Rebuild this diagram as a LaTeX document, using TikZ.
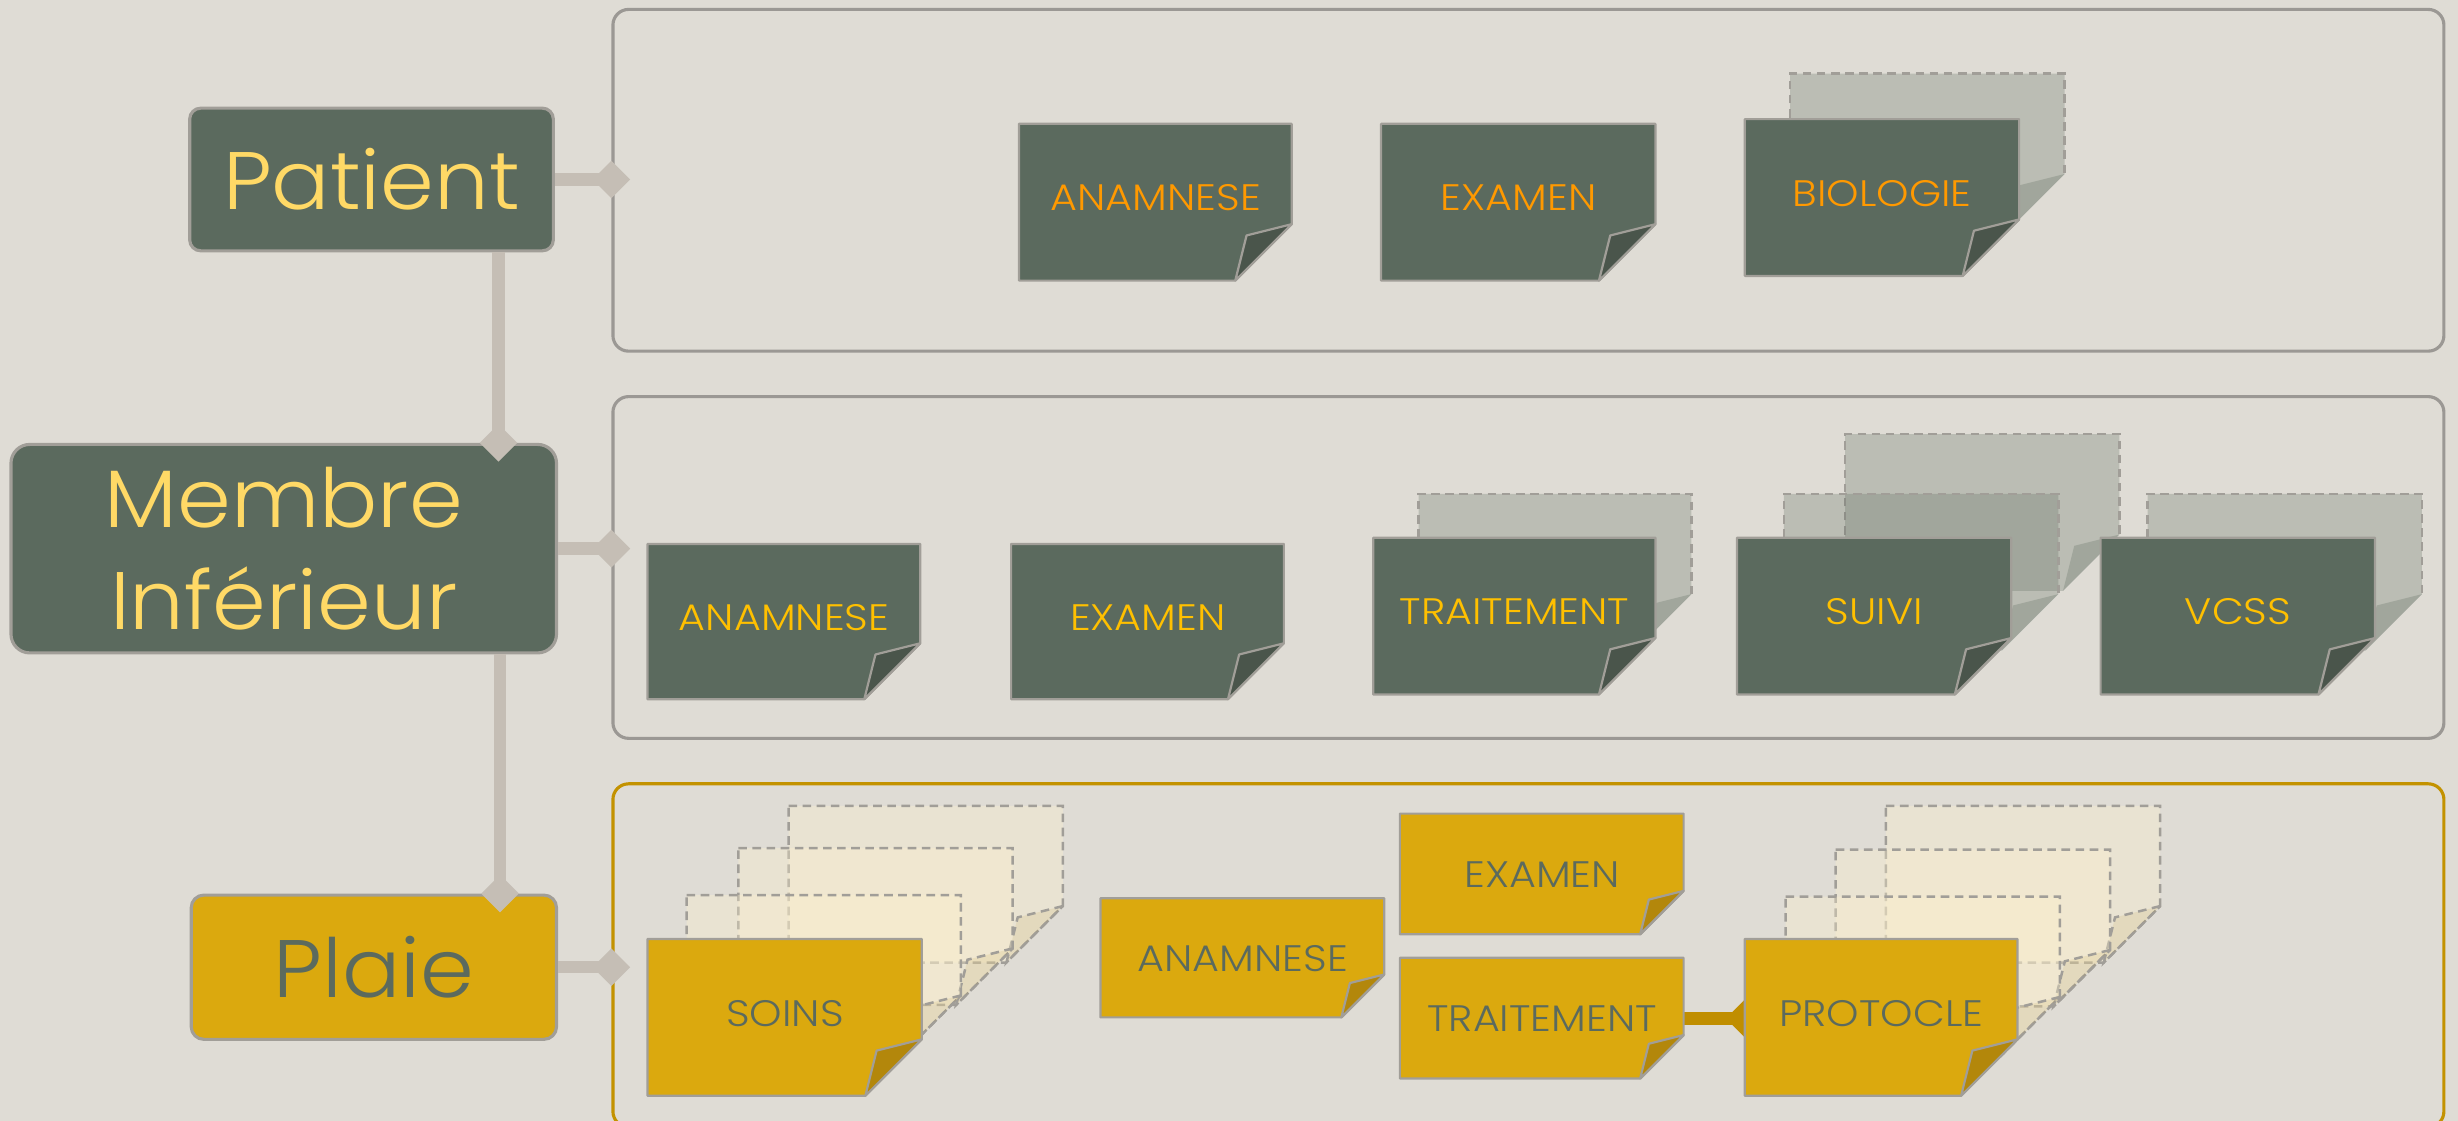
\documentclass[tikz,border=0pt]{standalone}
\usepackage{fontspec}
\setmainfont{Poppins}[UprightFont=* Light]
\usetikzlibrary{arrows.meta,calc}

\definecolor{bgcol}{RGB}{223,220,213}
\definecolor{framegray}{RGB}{155,152,148}
\definecolor{framegold}{RGB}{195,146,0}
\definecolor{linkgraycol}{RGB}{197,190,181}
\definecolor{linkgoldcol}{RGB}{192,142,0}
\definecolor{edgegray}{RGB}{161,158,152}
\definecolor{notegreen}{RGB}{91,106,94}
\definecolor{foldgreen}{RGB}{74,85,75}
\definecolor{notegold}{RGB}{219,169,14}
\definecolor{foldgold}{RGB}{179,135,11}
\definecolor{cream}{RGB}{255,242,204}
\definecolor{titleyellow}{RGB}{255,217,102}
\definecolor{labelorange}{RGB}{255,153,0}
\definecolor{labelamber}{RGB}{255,192,0}

\pgfdeclarelayer{back}
\pgfdeclarelayer{links}
\pgfsetlayers{back,links,main}

% slightly extended lettering
\newcommand\notewide[1]{\scalebox{1.12}[1]{#1}}
\newcommand\titlewide[1]{\scalebox{1.06}[1]{#1}}

% page outline with a folded bottom-right corner
% #1 page style, #2 fold style, #3 x, #4 y, #5 width, #6 height
\newcommand\notepage[6]{%
  \pgfmathsetmacro\nc{0.36*#6}%
  \path[#1] (#3,#4) -- ++(#5,0) -- ++(0,#6-\nc) -- ++(-\nc,\nc) -- (#3,#4+#6) -- cycle;
  \path[#2] (#3+#5,#4+#6-\nc) -- ++(-0.8*\nc,0.2*\nc) -- (#3+#5-\nc,#4+#6) -- cycle;
}
% front document: #1 name, #2 dark|gold, #3 x, #4 y, #5 w, #6 h, #7 text, #8 label style
\newcommand\docnote[8]{%
  \notepage{#2page}{#2fold}{#3}{#4}{#5}{#6}%
  \node[notelabel,#8,minimum width=#5,minimum height=#6,anchor=north west] (#1) at (#3,#4) {\notewide{#7}};
}
% translucent sheet behind a dark document
\newcommand\darkback[4]{%
  \notepage{darkbackfill}{darkbackfold}{#1}{#2}{#3}{#4}%
  \pgfmathsetmacro\nc{0.36*#4}%
  \draw[backedge] (#1,#2+#4) -- (#1,#2) -- (#1+#3,#2) -- (#1+#3,#2+#4-\nc);
}
% translucent sheet behind a gold document
\newcommand\goldback[4]{%
  \notepage{goldbackfill}{goldbackfold}{#1}{#2}{#3}{#4}%
}

\begin{document}
\begin{tikzpicture}[x=1pt,y=-1pt,
  mainnode/.style={draw=edgegray,line width=2pt,inner sep=0pt,
    font=\fontsize{52}{65}\selectfont,align=center},
  groupbox/.style={draw=framegray,line width=2pt,rounded corners=10pt,inner sep=0pt},
  darkpage/.style={fill=notegreen,draw=edgegray,line width=1.4pt,line join=round},
  darkfold/.style={fill=foldgreen,draw=edgegray,line width=1.4pt,line join=round},
  goldpage/.style={fill=notegold,draw=edgegray,line width=1.4pt,line join=round},
  goldfold/.style={fill=foldgold,draw=edgegray,line width=1.4pt,line join=round},
  backedge/.style={draw=edgegray,line width=1.6pt,dash pattern=on 5.5pt off 3.5pt},
  darkbackfill/.style={fill=notegreen,fill opacity=0.27},
  darkbackfold/.style={fill=notegreen,fill opacity=0.27},
  goldbackfill/.style={fill=cream,fill opacity=0.33,backedge},
  goldbackfold/.style={fill=foldgold,fill opacity=0.1,backedge},
  notelabel/.style={inner sep=0pt,font=\fontsize{23.5}{28}\selectfont,text depth=6pt},
  toplabel/.style={text=labelorange},
  midlabel/.style={text=labelamber},
  goldlabel/.style={text=notegreen},
  smalllabel/.style={text=notegreen,text depth=0pt},
  linkgray/.style={draw=linkgraycol,line width=8pt,
    -{Diamond[length=24pt,width=24pt]},shorten >=-12pt},
  linkgold/.style={draw=linkgoldcol,line width=8pt,
    -{Diamond[length=24pt,width=24pt]},shorten >=-12pt}
]
\useasboundingbox (0,0) rectangle (1568,715);

\begin{pgfonlayer}{back}
  \fill[bgcol] (0,0) rectangle (1568,715);
  \node[groupbox,minimum width=1168,minimum height=218,anchor=north west] (gpatient) at (390,5) {};
  \node[groupbox,minimum width=1168,minimum height=218,anchor=north west] (gmembre) at (390,252) {};
  \node[groupbox,draw=framegold,minimum width=1168,minimum height=219,anchor=north west] (gplaie) at (390,499) {};
\end{pgfonlayer}

% left-hand entities
\node[mainnode,fill=notegreen,text=titleyellow,minimum width=232,minimum height=91,rounded corners=7pt] (patient) at (237,114.5) {\titlewide{Patient}};
\node[mainnode,fill=notegreen,text=titleyellow,minimum width=348,minimum height=133,rounded corners=12pt] (membre) at (181,350) {\titlewide{Membre}\\\titlewide{Inférieur}};
\node[mainnode,fill=notegold,text=notegreen,minimum width=233,minimum height=92,rounded corners=8pt] (plaie) at (238.5,617) {\titlewide{Plaie}};

% patient documents
\docnote{pa-anam}{dark}{650}{79}{174}{100}{ANAMNESE}{toplabel}
\docnote{pa-exam}{dark}{881}{79}{175}{100}{EXAMEN}{toplabel}
\darkback{1142}{47}{175}{100}
\docnote{pa-bio}{dark}{1113}{76}{175}{100}{BIOLOGIE}{toplabel}

% lower-limb documents
\docnote{mi-anam}{dark}{413}{347}{174}{99}{ANAMNESE}{midlabel}
\docnote{mi-exam}{dark}{645}{347}{174}{99}{EXAMEN}{midlabel}
\darkback{905}{315}{174}{100}
\docnote{mi-trait}{dark}{876}{343}{180}{100}{TRAITEMENT}{midlabel}
\darkback{1177}{277}{175}{100}
\darkback{1138}{315}{175}{100}
\docnote{mi-suivi}{dark}{1108}{343}{175}{100}{SUIVI}{midlabel}
\darkback{1370}{315}{175}{100}
\docnote{mi-vcss}{dark}{1340}{343}{175}{100}{VCSS}{midlabel}

% wound documents
\goldback{503}{514}{175}{100}
\goldback{471}{541}{175}{100}
\goldback{438}{571}{175}{100}
\docnote{pl-soins}{gold}{413}{599}{175}{100}{SOINS}{goldlabel}
\docnote{pl-anam}{gold}{702}{573}{181}{76}{ANAMNESE}{smalllabel}
\docnote{pl-exam}{gold}{893}{519}{181}{77}{EXAMEN}{smalllabel}
\docnote{pl-trait}{gold}{893}{611}{181}{77}{TRAITEMENT}{smalllabel}
\goldback{1203}{514}{175}{100}
\goldback{1171}{542}{175}{100}
\goldback{1139}{572}{175}{100}
\docnote{pl-proto}{gold}{1113}{599}{174}{100}{PROTOCLE}{goldlabel}

% treatment leads to its protocol
\begin{pgfonlayer}{links}
  \draw[linkgold] (pl-trait.east) -- (pl-trait.east -| pl-proto.west);
\end{pgfonlayer}

% hierarchy links
\draw[linkgray] (patient.east) -- (patient.east -| gpatient.west);
\draw[linkgray] (membre.east) -- (membre.east -| gmembre.west);
\draw[linkgray] (plaie.east) -- (plaie.east -| gplaie.west);
\draw[linkgray] ([xshift=-36pt]patient.south east) -- ([xshift=-36pt]patient.south east |- membre.north);
\draw[linkgray] ([xshift=-37pt]membre.south east) -- ([xshift=-37pt]membre.south east |- plaie.north);
\end{tikzpicture}
\end{document}
